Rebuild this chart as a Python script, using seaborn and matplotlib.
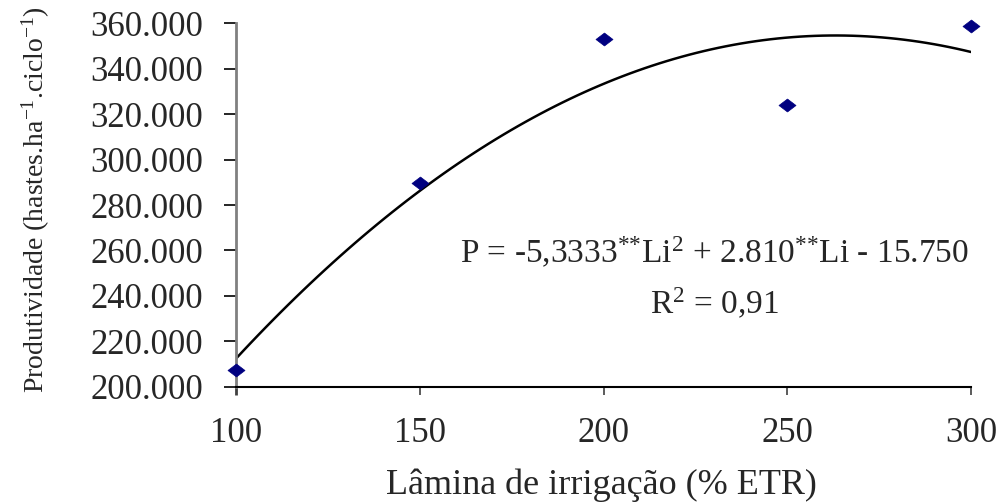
import matplotlib
matplotlib.use("Agg")
import matplotlib.pyplot as plt
from matplotlib.path import Path
import seaborn as sns
import pandas as pd

# ---- data ----
lamina = [100, 150, 200, 250, 300]                      # % ETR
produtividade = [207400, 289600, 353000, 324100, 358900]  # hastes/ha/ciclo
x_ticks = [100, 150, 200, 250, 300]
x_tick_labels = ["100", "150", "200", "250", "300"]
y_ticks = [200000, 220000, 240000, 260000, 280000, 300000, 320000, 340000, 360000]
y_tick_labels = ["200.000", "220.000", "240.000", "260.000", "280.000",
                 "300.000", "320.000", "340.000", "360.000"]
equation_text = r"P = -5,3333$^{{*}{*}}$Li$^{2}$ + 2.810$^{{*}{*}}$Li - 15.750"
r2_text = r"R$^{2}$ = 0,91"
x_label = "Lâmina de irrigação (% ETR)"
y_label = r"Produtividade (hastes.ha$^{-1}$.ciclo$^{-1}$)"

df = pd.DataFrame({"lamina": lamina, "produtividade": produtividade})

sns.set_theme(style="ticks")
plt.rcParams["font.family"] = ["Liberation Serif", "DejaVu Serif"]
plt.rcParams["mathtext.fontset"] = "custom"
plt.rcParams["mathtext.rm"] = "Liberation Serif"
plt.rcParams["mathtext.it"] = "Liberation Serif"
plt.rcParams["mathtext.bf"] = "Liberation Serif"

fig = plt.figure(figsize=(10.03, 5.04), dpi=100)
ax = fig.add_axes([236 / 1003, 1 - 386.7 / 504, 735 / 1003, 363.4 / 504])

# fitted quadratic trend line
sns.regplot(data=df, x="lamina", y="produtividade", order=2, ci=None,
            scatter=False, truncate=True, ax=ax,
            line_kws=dict(color="black", lw=1.8, zorder=2))

# wide diamond markers
diamond = Path([(-1.0, 0.0), (0.0, 0.76), (1.0, 0.0), (0.0, -0.76), (-1.0, 0.0)],
               [Path.MOVETO, Path.LINETO, Path.LINETO, Path.LINETO, Path.CLOSEPOLY])
sns.scatterplot(data=df, x="lamina", y="produtividade", marker=diamond, s=150,
                color="#000080", edgecolor="#000080", linewidth=0.5, ax=ax,
                zorder=3, clip_on=False)

ax.set_xlim(100, 300)
ax.set_ylim(200000, 360000)
ax.set_xticks(x_ticks)
ax.set_xticklabels(x_tick_labels)
ax.set_yticks(y_ticks)
ax.set_yticklabels(y_tick_labels)

for s in ["top", "right"]:
    ax.spines[s].set_visible(False)
ax.spines["left"].set_color("#808080")
ax.spines["left"].set_linewidth(2.0)
ax.spines["bottom"].set_color("black")
ax.spines["bottom"].set_linewidth(1.5)

ax.tick_params(axis="y", length=8.6, width=1.2, color="black", pad=15, labelsize=25)
ax.tick_params(axis="x", length=6, width=1.2, color="#404040", pad=16, labelsize=25)
ax.get_xticklines()[0].set_color("#808080")
ax.get_xticklines()[0].set_markeredgewidth(2.0)

ax.set_xlabel(x_label, fontsize=26)
ax.xaxis.set_label_coords(0.4966, -0.225)
ax.xaxis.label.set_va("top")
ax.set_ylabel(y_label, fontsize=20)
ax.yaxis.set_label_coords(-0.250, 0.515)

ax.text(0.651, 0.340, equation_text, transform=ax.transAxes, ha="center",
        va="baseline", fontsize=24)
ax.text(0.651, 0.200, r2_text, transform=ax.transAxes, ha="center",
        va="baseline", fontsize=24)

ax.grid(False)
fig.savefig("out.png", dpi=100, facecolor="white")
